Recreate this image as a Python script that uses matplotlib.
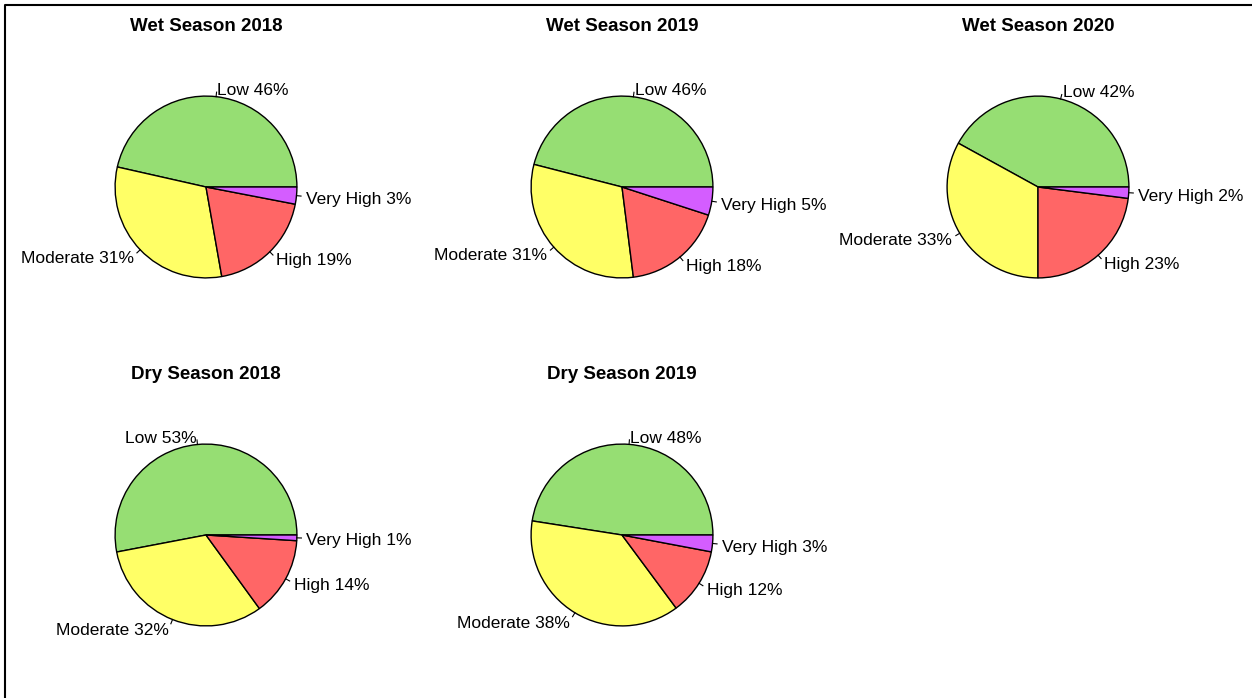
import matplotlib.pyplot as plt
import numpy as np
from matplotlib.lines import Line2D

plt.rcParams['font.family'] = ['Liberation Sans', 'DejaVu Sans']

# dados (percentuais)
titles = ['Wet Season 2018', 'Wet Season 2019', 'Wet Season 2020',
          'Dry Season 2018', 'Dry Season 2019']
categories = ['Low', 'Moderate', 'High', 'Very High']
wet_2018 = [46, 31, 19, 3]
wet_2019 = [46, 31, 18, 5]
wet_2020 = [42, 33, 23, 2]
dry_2018 = [53, 32, 14, 1]
dry_2019 = [48, 38, 12, 3]
series = [wet_2018, wet_2019, wet_2020, dry_2018, dry_2019]

colors = ['#96DE73', '#FFFF66', '#FF6666', '#D45DFF']

W, H = 1252, 698
fig = plt.figure(figsize=(W / 100, H / 100), dpi=100)

# centros das pizzas em pixels (layout)
centers = [(206, 187), (622, 187), (1038, 187), (206, 535), (622, 535)]
S = 300  # tamanho do eixo em px
lim = 1.65

for (cx, cy), title, vals in zip(centers, titles, series):
    ax = fig.add_axes([(cx - S / 2) / W, (H - cy - S / 2) / H, S / W, S / H])
    labels = [f'{c} {v}%' for c, v in zip(categories, vals)]
    wedges, texts = ax.pie(vals, labels=labels, colors=colors, startangle=0,
                           counterclock=True, labeldistance=1.1,
                           wedgeprops=dict(edgecolor='black', linewidth=1.0),
                           textprops=dict(fontsize=12.5))
    # texto um pouco mais baixo, como no R
    for t in texts:
        x, y = t.get_position()
        t.set_position((x, y - 0.03))
    # pequenos tracos ligando rotulo e fatia
    for w in wedges:
        ang = np.deg2rad((w.theta1 + w.theta2) / 2)
        ax.plot([np.cos(ang), 1.05 * np.cos(ang)], [np.sin(ang), 1.05 * np.sin(ang)],
                color='black', lw=0.8)
    ax.text(0, 1.77, title, ha='center', va='center', fontsize=13.5, fontweight='bold')
    ax.set_xlim(-lim, lim)
    ax.set_ylim(-lim, lim)
    ax.set_aspect('equal')
    ax.axis('off')

# moldura (apenas topo e esquerda visiveis)
fig.lines.append(Line2D([5 / W, 5 / W, 1], [0, 1 - 5 / H, 1 - 5 / H],
                        transform=fig.transFigure, color='black', linewidth=1.5))

plt.savefig('out.png', dpi=100)
plt.close()
